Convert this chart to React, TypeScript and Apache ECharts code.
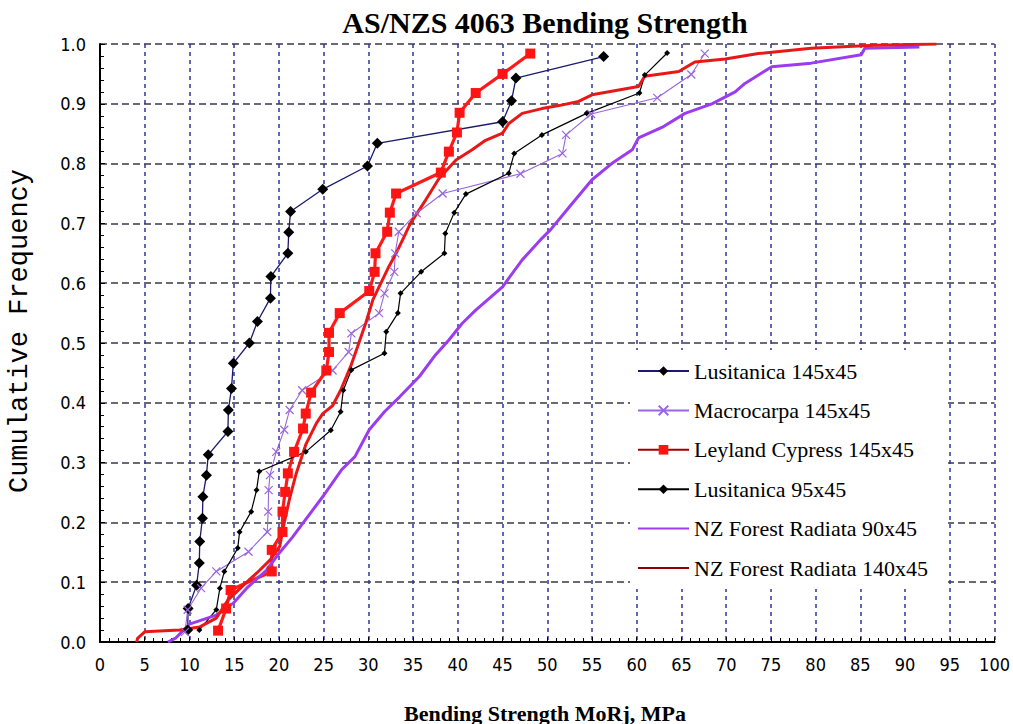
import React, { useEffect, useRef } from "react";
import * as echarts from "echarts";

const TITLE = "AS/NZS 4063 Bending Strength";
const X_TITLE = "Bending Strength MoRj, MPa";
const Y_TITLE = "Cumulative Frequency";

const seriesNames = [
  "Lusitanica 145x45",
  "Macrocarpa 145x45",
  "Leyland Cypress 145x45",
  "Lusitanica 95x45",
  "NZ Forest Radiata 90x45",
  "NZ Forest Radiata 140x45",
];

const luso145X = [9.8, 9.85, 10.8, 11.1, 11.15, 11.45, 11.5, 11.9, 12.1, 14.3, 14.35, 14.7, 14.9, 16.7, 17.6, 19.05, 19.1, 21.0, 21.1, 21.3, 24.9, 29.9, 31.0, 45.0, 46.0, 46.5, 56.3];
const luso145Y = [0.02, 0.056, 0.095, 0.132, 0.168, 0.207, 0.243, 0.279, 0.313, 0.352, 0.388, 0.424, 0.466, 0.5, 0.536, 0.575, 0.611, 0.65, 0.685, 0.72, 0.757, 0.796, 0.834, 0.87, 0.905, 0.943, 0.979];

const macroX = [9.5, 9.8, 11.3, 13.0, 16.6, 18.7, 18.8, 18.85, 19.0, 19.7, 20.6, 21.2, 22.6, 26.0, 27.8, 28.1, 31.2, 31.8, 32.9, 33.0, 33.4, 35.4, 38.3, 47.0, 51.7, 52.1, 54.9, 62.3, 66.1, 67.6];
const macroY = [0.017, 0.054, 0.09, 0.118, 0.151, 0.184, 0.218, 0.254, 0.279, 0.318, 0.355, 0.388, 0.421, 0.454, 0.485, 0.516, 0.55, 0.583, 0.619, 0.65, 0.686, 0.717, 0.75, 0.783, 0.817, 0.848, 0.883, 0.91, 0.949, 0.984];

const leylandX = [13.2, 14.1, 14.6, 19.2, 19.2, 20.4, 20.4, 20.7, 21.0, 21.7, 22.7, 23.0, 23.6, 25.3, 25.6, 25.6, 26.8, 30.1, 30.7, 30.8, 32.1, 32.4, 33.1, 38.1, 39.0, 39.9, 40.2, 42.0, 45.0, 48.1];
const leylandY = [0.019, 0.056, 0.087, 0.118, 0.154, 0.184, 0.218, 0.251, 0.282, 0.318, 0.357, 0.382, 0.417, 0.454, 0.485, 0.517, 0.55, 0.587, 0.619, 0.65, 0.686, 0.718, 0.75, 0.785, 0.82, 0.852, 0.885, 0.918, 0.95, 0.984];

const luso95X = [11.1, 13.0, 13.4, 13.9, 15.4, 15.6, 16.9, 17.5, 17.8, 23.0, 25.8, 26.9, 27.2, 28.1, 31.8, 32.0, 33.3, 33.6, 35.9, 38.5, 38.6, 39.6, 40.9, 45.7, 46.3, 49.4, 54.4, 60.3, 60.9, 63.4];
const luso95Y = [0.02, 0.054, 0.09, 0.118, 0.157, 0.184, 0.218, 0.254, 0.285, 0.318, 0.354, 0.385, 0.421, 0.455, 0.483, 0.519, 0.55, 0.583, 0.619, 0.65, 0.683, 0.718, 0.749, 0.784, 0.817, 0.848, 0.884, 0.918, 0.948, 0.985];

const nz90X = [7.6, 8.5, 10.0, 13.0, 14.9, 16.4, 18.6, 20.0, 21.5, 23.0, 25.0, 27.0, 28.5, 30.1, 31.8, 33.5, 35.7, 37.5, 39.0, 40.5, 42.0, 45.0, 47.2, 49.4, 50.4, 52.6, 55.0, 57.2, 59.5, 60.2, 63.0, 65.4, 68.4, 71.0, 72.1, 75.1, 79.5, 85.1, 85.5, 91.6];
const nz90Y = [0.0, 0.007, 0.03, 0.045, 0.065, 0.09, 0.12, 0.148, 0.175, 0.205, 0.245, 0.288, 0.31, 0.355, 0.385, 0.41, 0.444, 0.48, 0.505, 0.533, 0.555, 0.594, 0.639, 0.675, 0.69, 0.73, 0.773, 0.8, 0.823, 0.843, 0.862, 0.884, 0.9, 0.92, 0.934, 0.962, 0.968, 0.982, 0.993, 0.995];

const nz140X = [4.1, 4.2, 5.0, 8.9, 11.1, 13.0, 14.3, 16.4, 17.5, 19.0, 20.1, 20.6, 21.2, 21.9, 23.0, 24.2, 24.9, 26.0, 26.9, 28.0, 28.8, 29.7, 30.5, 31.4, 32.3, 33.1, 34.0, 34.7, 36.4, 37.9, 39.8, 41.6, 43.1, 45.0, 45.7, 47.2, 49.4, 51.3, 53.5, 55.0, 60.2, 60.9, 64.7, 66.5, 69.9, 73.6, 79.5, 86.6, 93.5];
const nz140Y = [0.0, 0.006, 0.017, 0.02, 0.025, 0.04, 0.07, 0.1, 0.115, 0.137, 0.16, 0.2, 0.24, 0.28, 0.33, 0.366, 0.382, 0.395, 0.421, 0.46, 0.494, 0.533, 0.572, 0.6, 0.628, 0.65, 0.678, 0.7, 0.739, 0.775, 0.806, 0.823, 0.839, 0.851, 0.867, 0.884, 0.892, 0.897, 0.904, 0.915, 0.929, 0.946, 0.954, 0.97, 0.975, 0.984, 0.993, 0.998, 1.0];

const zip = (xs: number[], ys: number[]) => xs.map((x, i) => [x, ys[i]]);

export default function App() {
  const ref = useRef<HTMLDivElement>(null);
  useEffect(() => {
    if (!ref.current) return;
    const chart = echarts.init(ref.current, null, { renderer: "svg" });
    const cross = "path://M0,0L10,10M10,0L0,10";
    const tickFont = "'Liberation Sans Narrow', 'DejaVu Sans Condensed', sans-serif";
    chart.setOption({
      animation: false,
      backgroundColor: "#ffffff",
      grid: { left: 100, top: 44, right: 16, bottom: 82, containLabel: false },
      graphic: [
        {
          type: "text",
          x: 545,
          y: 22,
          style: {
            text: TITLE,
            fill: "#000",
            fontFamily: "Liberation Serif",
            fontWeight: "bold",
            fontSize: 30,
            textAlign: "center",
            textVerticalAlign: "middle",
            align: "center",
            verticalAlign: "middle",
          },
        },
        {
          type: "text",
          x: 545,
          y: 713,
          style: {
            text: X_TITLE,
            fill: "#000",
            fontFamily: "Liberation Serif",
            fontWeight: "bold",
            fontSize: 22,
            textAlign: "center",
            textVerticalAlign: "middle",
            align: "center",
            verticalAlign: "middle",
          },
        },
        {
          type: "text",
          x: 20,
          y: 331,
          rotation: Math.PI / 2,
          style: {
            text: Y_TITLE,
            fill: "#000",
            fontFamily: "Liberation Mono",
            fontSize: 27,
            textAlign: "center",
            textVerticalAlign: "middle",
            align: "center",
            verticalAlign: "middle",
          },
        },
      ],
      xAxis: {
        type: "value",
        min: 0,
        max: 100,
        interval: 5,
        axisLine: { show: true, onZero: false, lineStyle: { color: "#000", width: 2 } },
        axisTick: { show: true, inside: true, length: 5, lineStyle: { color: "#000", width: 1 } },
        minorTick: { show: true, splitNumber: 5, length: 4, lineStyle: { color: "#000", width: 1 } },
        axisLabel: { margin: 13, fontSize: 18, fontFamily: tickFont, color: "#000" },
        splitLine: { show: true, lineStyle: { color: "#3232a8", type: [4, 4], width: 1.5 } },
      },
      yAxis: {
        type: "value",
        min: 0,
        max: 1,
        interval: 0.1,
        axisLine: { show: true, onZero: false, lineStyle: { color: "#000", width: 2 } },
        axisTick: { show: true, inside: true, length: 5, lineStyle: { color: "#000", width: 1 } },
        minorTick: { show: true, splitNumber: 5, length: 4, lineStyle: { color: "#000", width: 1 } },
        axisLabel: {
          margin: 14,
          fontSize: 18,
          fontFamily: tickFont,
          color: "#000",
          formatter: (v: number) => v.toFixed(1),
        },
        splitLine: { show: true, lineStyle: { color: "#3a3a4a", type: [7, 4], width: 1.5 } },
      },
      legend: {
        orient: "vertical",
        left: 630,
        top: 350,
        padding: [10, 20, 10, 7],
        backgroundColor: "#ffffff",
        itemWidth: 51,
        itemHeight: 12,
        itemGap: 17.4,
        textStyle: { fontFamily: "Liberation Serif", fontSize: 22, color: "#000", lineHeight: 20 },
        data: [
          { name: seriesNames[0] },
          { name: seriesNames[1] },
          { name: seriesNames[2], lineStyle: { color: "#a00000" } },
          { name: seriesNames[3] },
          { name: seriesNames[4], itemStyle: { opacity: 0 } },
          { name: seriesNames[5], lineStyle: { color: "#900000" }, itemStyle: { opacity: 0 } },
        ],
      },
      series: [
        {
          name: seriesNames[0],
          type: "line",
          data: zip(luso145X, luso145Y),
          symbol: "diamond",
          symbolSize: 11,
          itemStyle: { color: "#000000" },
          lineStyle: { color: "#1a1a70", width: 1.3 },
          z: 3,
        },
        {
          name: seriesNames[1],
          type: "line",
          data: zip(macroX, macroY),
          symbol: cross,
          symbolSize: 8,
          itemStyle: { color: "#9966dd", borderColor: "#9966dd", borderWidth: 1.2 },
          lineStyle: { color: "#9966dd", width: 1.1 },
          z: 3,
        },
        {
          name: seriesNames[2],
          type: "line",
          data: zip(leylandX, leylandY),
          symbol: "rect",
          symbolSize: 10,
          itemStyle: { color: "#ff1414" },
          lineStyle: { color: "#ff1a1a", width: 3.2 },
          z: 3,
        },
        {
          name: seriesNames[3],
          type: "line",
          data: zip(luso95X, luso95Y),
          symbol: "diamond",
          symbolSize: 6,
          itemStyle: { color: "#000000" },
          lineStyle: { color: "#000000", width: 1.2 },
          z: 3,
        },
        {
          name: seriesNames[4],
          type: "line",
          data: zip(nz90X, nz90Y),
          symbol: "none",
          itemStyle: { color: "#9b3cf0" },
          lineStyle: { color: "#9b3cf0", width: 3 },
          z: 3,
        },
        {
          name: seriesNames[5],
          type: "line",
          data: zip(nz140X, nz140Y),
          symbol: "none",
          itemStyle: { color: "#e81818" },
          lineStyle: { color: "#e81818", width: 3 },
          z: 3,
        },
      ],
    });
    return () => chart.dispose();
  }, []);
  return (
    <div
      ref={ref}
      style={{ position: "absolute", left: 0, top: 0, width: 1013, height: 724, background: "#fff" }}
    />
  );
}
